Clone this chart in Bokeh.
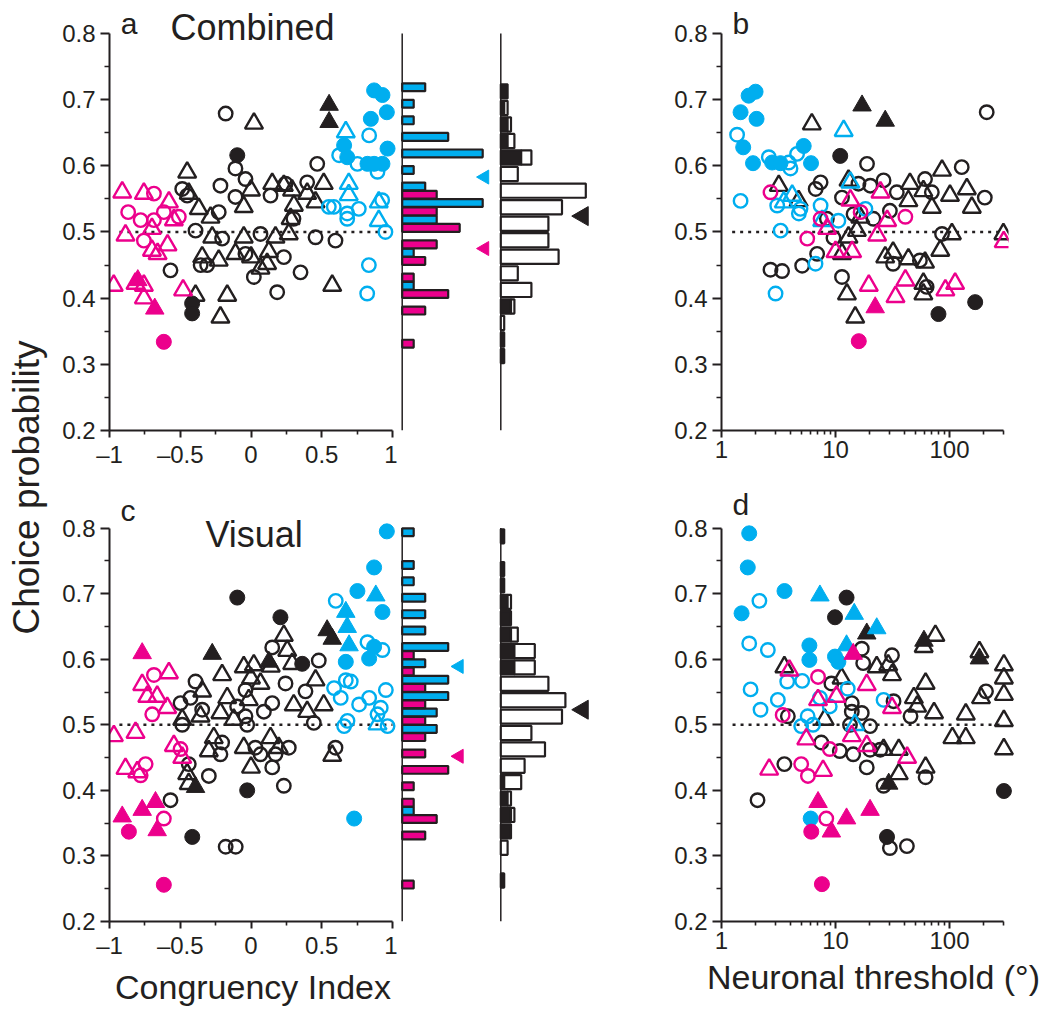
import numpy as np
from bokeh.plotting import figure
from bokeh.models import ColumnDataSource, Range1d, FixedTicker, CustomJSTickFormatter, Label
from bokeh.layouts import row, column
from bokeh.core.properties import value
from bokeh.embed import file_html
from bokeh.resources import INLINE

CYAN = "#00AEEF"
MAGENTA = "#EC008C"
INK = "#231F20"
FONT = "Liberation Sans"

# ---------------- data: panel a (congruency index, choice probability; combined) ----------------
A_CONG_FILL_CIRC = [(0.87, 0.714), (0.929, 0.707), (0.847, 0.671), (0.96, 0.681), (0.658, 0.631), (0.68, 0.613),
                    (0.965, 0.626), (0.823, 0.603), (0.929, 0.603), (0.87, 0.603)]
A_CONG_OPEN_CIRC = [(0.835, 0.646), (0.623, 0.616), (0.752, 0.603), (0.894, 0.591), (0.585, 0.538), (0.68, 0.52),
                    (0.68, 0.528), (0.762, 0.535), (0.927, 0.548), (0.95, 0.50), (0.833, 0.45), (0.821, 0.407),
                    (0.55, 0.538)]
A_CONG_OPEN_TRI = [(0.67, 0.651), (0.691, 0.573), (0.691, 0.556), (0.903, 0.545), (0.903, 0.517)]
A_CONG_FILL_TRI = []
A_OPP_FILL_CIRC = [(-0.616, 0.334)]
A_OPP_FILL_TRI = [(-0.80, 0.427), (-0.68, 0.384)]
A_OPP_OPEN_TRI = [(-0.91, 0.56), (-0.757, 0.558), (-0.58, 0.545), (-0.545, 0.518), (-0.887, 0.495), (-0.70, 0.505),
                  (-0.66, 0.467), (-0.59, 0.48), (-0.70, 0.472), (-0.97, 0.419), (-0.816, 0.422), (-0.757, 0.419),
                  (-0.757, 0.40), (-0.48, 0.412)]
A_OPP_OPEN_CIRC = [(-0.686, 0.558), (-0.868, 0.530), (-0.78, 0.518), (-0.686, 0.518), (-0.616, 0.530),
                   (-0.757, 0.487), (-0.51, 0.523)]
A_MID_FILL_CIRC = [(-0.097, 0.616), (-0.416, 0.392), (-0.416, 0.377)]
A_MID_FILL_TRI = [(0.552, 0.692), (0.552, 0.666)]
A_MID_OPEN_TRI = [(-0.451, 0.590), (-0.44, 0.558), (-0.369, 0.535), (-0.286, 0.522), (-0.051, 0.538), (0.0, 0.563),
                  (0.15, 0.573), (0.232, 0.57), (0.29, 0.563), (0.397, 0.558), (0.514, 0.573), (0.456, 0.545),
                  (0.303, 0.54), (0.28, 0.52), (0.267, 0.497), (-0.274, 0.492), (-0.051, 0.492), (0.173, 0.492),
                  (-0.345, 0.462), (-0.228, 0.457), (-0.11, 0.467), (0.0, 0.462), (0.067, 0.445), (0.126, 0.47),
                  (0.114, 0.452), (0.574, 0.419), (-0.168, 0.404), (-0.216, 0.371), (-0.392, 0.404), (0.021, 0.664)]
A_MID_OPEN_CIRC = [(-0.179, 0.679), (-0.486, 0.565), (-0.451, 0.555), (-0.216, 0.570), (-0.11, 0.596),
                   (-0.039, 0.58), (-0.11, 0.553), (-0.228, 0.53), (0.138, 0.555), (0.244, 0.573), (0.397, 0.575),
                   (0.468, 0.603), (0.30, 0.52), (0.456, 0.492), (0.597, 0.487), (-0.392, 0.502), (-0.204, 0.49),
                   (0.067, 0.497), (-0.31, 0.45), (-0.039, 0.467), (0.02, 0.432), (0.232, 0.462), (0.35, 0.439),
                   (0.185, 0.409), (-0.569, 0.442), (-0.356, 0.45)]

# ---------------- data: panel b (neuronal threshold, choice probability; combined) ----------------
B_CONG_FILL_CIRC = [(1.99, 0.712), (1.73, 0.706), (1.47, 0.681), (2.03, 0.671), (1.55, 0.628), (1.89, 0.604),
                    (2.78, 0.605), (3.29, 0.604), (5.26, 0.63), (6.1, 0.604)]
B_CONG_OPEN_CIRC = [(1.37, 0.647), (1.47, 0.547), (2.6, 0.613), (4.03, 0.596), (3.89, 0.605), (4.6, 0.618),
                    (3.3, 0.502), (2.98, 0.407), (3.08, 0.54), (4.77, 0.528), (4.93, 0.535), (7.4, 0.54),
                    (10.6, 0.517), (18.3, 0.535), (6.68, 0.452)]
B_CONG_OPEN_TRI = [(11.8, 0.653), (13.5, 0.575), (4.17, 0.555), (3.52, 0.545), (7.64, 0.517)]
B_CONG_FILL_TRI = []
B_OPP_FILL_CIRC = [(16.0, 0.335)]
B_OPP_FILL_TRI = [(22.3, 0.386)]
B_OPP_OPEN_CIRC = [(2.69, 0.56), (5.65, 0.49), (7.4, 0.52), (16.6, 0.53), (41.0, 0.523)]
B_OPP_OPEN_TRI = [(24.8, 0.56), (13.5, 0.548), (28.4, 0.517), (23.2, 0.495), (8.45, 0.505), (10.0, 0.47),
                  (14.0, 0.47), (19.6, 0.419), (41.0, 0.427), (33.6, 0.402), (92.0, 0.412), (112.0, 0.422),
                  (299.0, 0.485)]
B_MID_FILL_CIRC = [(11.0, 0.615), (80.0, 0.376), (168.0, 0.394)]
B_MID_FILL_TRI = [(17.1, 0.691), (27.3, 0.668)]
B_MID_OPEN_CIRC = [(2.69, 0.443), (3.4, 0.441), (5.1, 0.449), (6.9, 0.467), (6.7, 0.565), (7.4, 0.575),
                   (18.9, 0.603), (11.4, 0.552), (15.9, 0.573), (20.2, 0.570), (26.4, 0.578), (34.5, 0.56),
                   (61.0, 0.58), (70.0, 0.56), (128.0, 0.598), (204.0, 0.552), (212.0, 0.681), (86.0, 0.497),
                   (9.6, 0.491), (11.4, 0.432), (32.0, 0.452), (30.0, 0.532), (21.5, 0.52), (55.0, 0.457),
                   (63.0, 0.417), (14.4, 0.527), (8.4, 0.52)]
B_MID_OPEN_TRI = [(6.2, 0.663), (3.18, 0.57), (4.75, 0.547), (13.0, 0.578), (15.4, 0.502), (13.0, 0.492),
                  (11.4, 0.467), (12.6, 0.406), (14.9, 0.371), (16.5, 0.522), (27.3, 0.462), (32.0, 0.469),
                  (45.0, 0.573), (43.6, 0.547), (59.0, 0.562), (70.0, 0.537), (86.0, 0.593), (101.0, 0.555),
                  (83.0, 0.472), (105.0, 0.497), (142.0, 0.565), (157.0, 0.537), (61.0, 0.454), (59.0, 0.406),
                  (59.0, 0.422), (297.0, 0.497), (43.6, 0.459)]

# ---------------- data: panel c (congruency index, choice probability; visual) ----------------
C_CONG_FILL_CIRC = [(0.96, 0.795), (0.87, 0.74), (0.752, 0.704), (0.929, 0.672), (0.67, 0.596), (0.835, 0.601),
                    (0.87, 0.619), (0.729, 0.357)]
C_CONG_FILL_TRI = [(0.67, 0.672), (0.68, 0.649), (0.882, 0.697), (0.693, 0.621)]
C_CONG_OPEN_CIRC = [(0.599, 0.689), (0.823, 0.626), (0.929, 0.614), (0.587, 0.556), (0.67, 0.568), (0.705, 0.566),
                    (0.634, 0.541), (0.764, 0.531), (0.835, 0.541), (0.953, 0.553), (0.917, 0.526),
                    (0.894, 0.516), (0.682, 0.506), (0.658, 0.498), (0.965, 0.498)]
C_CONG_OPEN_TRI = [(0.894, 0.501)]
C_OPP_FILL_TRI = [(-0.769, 0.609), (-0.91, 0.36), (-0.769, 0.37), (-0.675, 0.382), (-0.663, 0.339)]
C_OPP_FILL_CIRC = [(-0.863, 0.337), (-0.616, 0.256)]
C_OPP_OPEN_TRI = [(-0.58, 0.579), (-0.769, 0.561), (-0.733, 0.543), (-0.663, 0.543), (-0.592, 0.526),
                  (-0.969, 0.483), (-0.816, 0.488), (-0.887, 0.433), (-0.804, 0.428), (-0.545, 0.468),
                  (-0.486, 0.45)]
C_OPP_OPEN_CIRC = [(-0.686, 0.576), (-0.698, 0.516), (-0.498, 0.463), (-0.745, 0.44), (-0.78, 0.423),
                   (-0.616, 0.357)]
C_MID_FILL_CIRC = [(-0.097, 0.694), (0.208, 0.664), (0.362, 0.593), (-0.027, 0.40), (-0.415, 0.329)]
C_MID_FILL_TRI = [(-0.274, 0.608), (0.538, 0.644), (0.574, 0.631), (0.126, 0.596), (-0.392, 0.405)]
C_MID_OPEN_TRI = [(0.232, 0.636), (0.256, 0.613), (0.291, 0.593), (-0.204, 0.576), (-0.051, 0.588), (0.02, 0.591),
                  (0.0, 0.571), (0.067, 0.563), (-0.345, 0.551), (-0.168, 0.541), (-0.016, 0.538),
                  (-0.216, 0.518), (-0.357, 0.513), (-0.486, 0.508), (-0.122, 0.508), (0.302, 0.53),
                  (0.397, 0.52), (0.514, 0.53), (0.456, 0.568), (-0.263, 0.48), (-0.298, 0.46), (-0.051, 0.465),
                  (0.138, 0.48), (0.196, 0.465), (0.574, 0.453), (0.0, 0.435), (-0.451, 0.425), (-0.44, 0.41),
                  (0.14, 0.589)]
C_MID_OPEN_CIRC = [(-0.392, 0.566), (-0.498, 0.533), (-0.428, 0.541), (-0.345, 0.523), (0.15, 0.618),
                   (0.479, 0.598), (0.244, 0.563), (0.385, 0.551), (-0.039, 0.553), (0.15, 0.533), (0.091, 0.52),
                   (-0.098, 0.528), (-0.039, 0.513), (-0.027, 0.5), (-0.486, 0.50), (0.444, 0.503),
                   (-0.204, 0.473), (-0.216, 0.455), (0.031, 0.465), (0.067, 0.455), (0.173, 0.455),
                   (0.267, 0.465), (0.597, 0.465), (0.15, 0.435), (-0.298, 0.422), (0.232, 0.407),
                   (-0.569, 0.385), (-0.179, 0.314), (-0.108, 0.314), (-0.44, 0.44)]

# ---------------- data: panel d (neuronal threshold, choice probability; visual) ----------------
D_CONG_FILL_CIRC = [(1.75, 0.792), (1.7, 0.74), (3.57, 0.704), (1.5, 0.67), (5.9, 0.621), (5.9, 0.599),
                    (9.9, 0.604), (10.6, 0.596), (6.06, 0.357)]
D_CONG_FILL_TRI = [(7.3, 0.697), (14.6, 0.669), (23.0, 0.647), (12.5, 0.621)]
D_CONG_OPEN_CIRC = [(2.15, 0.689), (1.75, 0.624), (2.55, 0.614), (1.8, 0.554), (3.77, 0.566), (5.1, 0.567),
                    (3.12, 0.538), (2.2, 0.523), (5.7, 0.513), (5.0, 0.498), (6.35, 0.50), (7.3, 0.541),
                    (8.9, 0.528), (12.8, 0.555), (26.4, 0.538)]
D_CONG_OPEN_TRI = [(14.8, 0.50)]
D_OPP_FILL_TRI = [(7.03, 0.382), (9.2, 0.337), (12.5, 0.357), (20.1, 0.37), (14.3, 0.608)]
D_OPP_FILL_CIRC = [(6.13, 0.337), (7.6, 0.257)]
D_OPP_OPEN_TRI = [(3.94, 0.583), (2.62, 0.432), (5.54, 0.478), (7.78, 0.43), (7.03, 0.538), (10.2, 0.543),
                  (18.8, 0.561), (18.8, 0.468), (31.3, 0.526), (42.5, 0.45), (13.9, 0.483)]
D_OPP_OPEN_CIRC = [(7.03, 0.573), (3.44, 0.515), (8.9, 0.463), (5.0, 0.44), (5.73, 0.422), (8.3, 0.357)]
D_MID_FILL_CIRC = [(12.5, 0.694), (9.9, 0.664), (300.0, 0.399), (28.3, 0.329)]
D_MID_FILL_TRI = [(18.8, 0.639), (59.7, 0.628), (183.0, 0.601), (29.3, 0.41)]
D_MID_OPEN_CIRC = [(17.0, 0.616), (31.3, 0.606), (9.2, 0.563), (13.9, 0.533), (13.9, 0.52), (17.0, 0.518),
                   (13.4, 0.50), (20.1, 0.498), (45.5, 0.513), (209.0, 0.551), (7.5, 0.473), (10.9, 0.46),
                   (14.3, 0.455), (24.7, 0.462), (18.8, 0.435), (26.4, 0.407), (61.7, 0.42), (3.56, 0.44),
                   (2.07, 0.385), (3.82, 0.513), (30.0, 0.312), (42.3, 0.315), (17.5, 0.594), (32.3, 0.536),
                   (20.1, 0.462)]
D_MID_OPEN_TRI = [(3.56, 0.588), (8.04, 0.508), (11.3, 0.571), (23.0, 0.588), (31.3, 0.576), (61.7, 0.563),
                  (48.7, 0.541), (52.0, 0.528), (73.2, 0.518), (139.0, 0.516), (106.0, 0.48), (139.0, 0.48),
                  (189.0, 0.541), (183.0, 0.611), (300.0, 0.591), (300.0, 0.571), (300.0, 0.546),
                  (300.0, 0.506), (300.0, 0.463), (26.4, 0.462), (35.9, 0.462), (35.9, 0.425), (61.7, 0.435),
                  (75.2, 0.636), (59.4, 0.619), (29.0, 0.591)]

# ---------------- histograms (bin lower edge, counts) ----------------
HA_CONG_BIN = [0.700, 0.675, 0.650, 0.625, 0.600, 0.575, 0.550, 0.525, 0.500, 0.450, 0.400]
HA_CONG_N = [2, 1, 1, 4, 7, 1, 2, 7, 3, 1, 1]
HA_OPP_BIN = [0.550, 0.525, 0.500, 0.475, 0.450, 0.425, 0.400, 0.375, 0.325]
HA_OPP_N = [3, 3, 5, 3, 2, 1, 4, 2, 1]
HA_ALL_BIN = [0.700, 0.675, 0.650, 0.625, 0.600, 0.575, 0.550, 0.525, 0.500, 0.475, 0.450, 0.425, 0.400,
              0.375, 0.350, 0.325, 0.300]
HA_SIG_N = [2, 1, 2, 2, 6, 0, 0, 0, 0, 0, 0, 0, 0, 3, 0, 1, 1]
HA_ALL_N = [2, 2, 3, 4, 9, 5, 25, 18, 14, 14, 17, 5, 9, 4, 1, 1, 1]

HC_CONG_BIN = [0.775, 0.725, 0.700, 0.675, 0.650, 0.625, 0.600, 0.575, 0.550, 0.525, 0.500, 0.475, 0.350]
HC_CONG_N = [1, 1, 1, 2, 2, 2, 4, 2, 4, 4, 3, 3, 1]
HC_OPP_BIN = [0.600, 0.575, 0.550, 0.525, 0.500, 0.475, 0.450, 0.425, 0.400, 0.375, 0.350, 0.325, 0.250]
HC_OPP_N = [1, 1, 2, 2, 2, 2, 2, 4, 1, 1, 3, 2, 1]
HC_ALL_BIN = [0.775, 0.725, 0.700, 0.675, 0.650, 0.625, 0.600, 0.575, 0.550, 0.525, 0.500, 0.475, 0.450,
              0.425, 0.400, 0.375, 0.350, 0.325, 0.300, 0.250]
HC_SIG_N = [1, 1, 1, 2, 3, 3, 4, 4, 0, 0, 0, 0, 0, 0, 1, 2, 3, 3, 0, 1]
HC_ALL_N = [1, 1, 1, 3, 3, 5, 10, 10, 14, 19, 18, 9, 13, 7, 6, 3, 4, 3, 2, 1]

# median markers (arrows)
MED_A = {"cong": 0.583, "opp": 0.475, "all": 0.524}
MED_C = {"cong": 0.589, "opp": 0.452, "all": 0.523}

CP_TICKS = [0.2, 0.3, 0.4, 0.5, 0.6, 0.7, 0.8]
CP_MINOR = [0.25, 0.35, 0.45, 0.55, 0.65, 0.75]
CI_TICKS = [-1, -0.5, 0, 0.5, 1]
CI_MINOR = [-0.75, -0.25, 0.25, 0.75]
THR_TICKS = [1, 10, 100]
THR_MINOR = [2, 3, 4, 5, 6, 7, 8, 9, 20, 30, 40, 50, 60, 70, 80, 90, 200, 300]
CHANCE = 0.5

# ---------------- layout constants ----------------
CP_LO, CP_HI = 0.2, 0.8
TOP1 = 0.8 + 23 / 662.0     # row 1 frame top (room for panel letters)
TOP2 = 0.8 + 37 / 663.0     # row 2 frame top
CI_LO, CI_HI = -1, 1
THR_LO, THR_HI = 1, 300
PX_CI = 141.5
PX_DEC = 114.0
BIN = 0.025
H1_UNIT = 11.5
H2_UNIT = 3.4
LBL_UP = 13 / 662.0         # vertical nudge for panel letters / titles


def style_common(p):
    p.grid.visible = False
    p.outline_line_color = None
    p.background_fill_color = "white"
    p.border_fill_color = "white"


def style_axes(p, xticks, xminor, xfmt, xbounds):
    for ax in (p.xaxis[0], p.yaxis[0]):
        ax.axis_line_color = INK
        ax.axis_line_width = 2
        ax.major_tick_line_color = INK
        ax.major_tick_line_width = 2
        ax.minor_tick_line_color = INK
        ax.minor_tick_line_width = 1.6
        ax.major_tick_in = 0
        ax.minor_tick_in = 0
        ax.major_label_text_font = FONT
        ax.major_label_text_font_size = "24px"
        ax.major_label_text_color = INK
        ax.axis_label_text_font = FONT
        ax.axis_label_text_font_size = "34px"
        ax.axis_label_text_font_style = "normal"
        ax.axis_label_text_color = INK
    xa, ya = p.xaxis[0], p.yaxis[0]
    xa.ticker = FixedTicker(ticks=xticks, minor_ticks=xminor)
    xa.formatter = CustomJSTickFormatter(code=xfmt)
    xa.bounds = xbounds
    xa.major_tick_out = 7
    xa.minor_tick_out = 4
    xa.major_label_standoff = 3
    ya.ticker = FixedTicker(ticks=CP_TICKS, minor_ticks=CP_MINOR)
    ya.formatter = CustomJSTickFormatter(code="return tick.toFixed(1);")
    ya.bounds = (CP_LO, CP_HI)
    ya.major_tick_out = 9
    ya.minor_tick_out = 5
    ya.major_label_standoff = 5


CI_FMT = "return tick < 0 ? '\\u2013' + String(Math.abs(tick)) : String(tick);"
THR_FMT = "return String(tick);"


def add_group(p, pts, color, marker, filled):
    if not pts:
        return
    src = ColumnDataSource(dict(x=[q[0] for q in pts], y=[q[1] for q in pts]))
    if marker == "circle":
        size = 15 if filled else 13.5
    else:
        size = 18.5 if filled else 18
    p.scatter("x", "y", source=src, marker=marker, size=size,
              fill_color=color if filled else None, line_color=color,
              line_width=1 if filled else 2.4)


def scatter_fig(kind, width, height, b_left, b_right, b_top, b_bottom, cp_top, groups, dot_start):
    frame_w = width - b_left - b_right
    if kind == "ci":
        xr = Range1d(CI_LO, CI_LO + frame_w / PX_CI)
        p = figure(width=width, height=height, x_range=xr, y_range=Range1d(CP_LO, cp_top),
                   toolbar_location=None, output_backend="svg",
                   min_border_left=b_left, min_border_right=b_right,
                   min_border_top=b_top, min_border_bottom=b_bottom)
        style_axes(p, CI_TICKS, CI_MINOR, CI_FMT, (CI_LO, CI_HI))
        x_end = CI_HI
    else:
        xr = Range1d(THR_LO, 10 ** (frame_w / PX_DEC))
        p = figure(width=width, height=height, x_range=xr, y_range=Range1d(CP_LO, cp_top),
                   x_axis_type="log", toolbar_location=None, output_backend="svg",
                   min_border_left=b_left, min_border_right=b_right,
                   min_border_top=b_top, min_border_bottom=b_bottom)
        style_axes(p, THR_TICKS, THR_MINOR, THR_FMT, (THR_LO, THR_HI))
        x_end = THR_HI
    style_common(p)
    p.segment(x0=[dot_start], y0=[CHANCE], x1=[x_end], y1=[CHANCE], line_color=INK,
              line_width=2.5, line_dash="3 5")
    for pts, color, marker, filled in groups:
        add_group(p, pts, color, marker, filled)
    return p


def panel_label(p, x, y, text, size):
    p.add_layout(Label(x=x, y=y + LBL_UP, text=text, text_font=FONT, text_font_size=size,
                       text_color=INK, text_baseline="alphabetic", text_align="left"))


def groups_for(cong_fc, cong_oc, cong_ot, cong_ft, opp_fc, opp_ft, opp_ot, opp_oc,
               mid_fc, mid_ft, mid_ot, mid_oc):
    return [
        (mid_oc, INK, "circle", False), (mid_ot, INK, "triangle", False),
        (mid_fc, INK, "circle", True), (mid_ft, INK, "triangle", True),
        (cong_oc, CYAN, "circle", False), (cong_ot, CYAN, "triangle", False),
        (cong_fc, CYAN, "circle", True), (cong_ft, CYAN, "triangle", True),
        (opp_oc, MAGENTA, "circle", False), (opp_ot, MAGENTA, "triangle", False),
        (opp_fc, MAGENTA, "circle", True), (opp_ft, MAGENTA, "triangle", True),
    ]


def hist_fig(width, height, b_top, b_bottom, cp_top, x_lo, unit):
    p = figure(width=width, height=height, x_range=Range1d(x_lo, x_lo + width / unit),
               y_range=Range1d(CP_LO, cp_top), x_axis_location=None, y_axis_location=None,
               toolbar_location=None, output_backend="svg",
               min_border_left=0, min_border_right=0, min_border_top=b_top, min_border_bottom=b_bottom)
    style_common(p)
    p.segment(x0=[0], y0=[CP_LO], x1=[0], y1=[CP_HI], line_color=INK, line_width=1.5)
    return p


def class_hist(p, cong_bin, cong_n, opp_bin, opp_n, med, arrow_x):
    p.hbar(y=[b + 0.75 * BIN for b in cong_bin], left=0, right=cong_n, height=BIN / 2 * 0.95,
           fill_color=CYAN, line_color=INK, line_width=2.2)
    p.hbar(y=[b + 0.25 * BIN for b in opp_bin], left=0, right=opp_n, height=BIN / 2 * 0.95,
           fill_color=MAGENTA, line_color=INK, line_width=2.2)
    p.scatter(x=[arrow_x, arrow_x], y=[med["cong"], med["opp"]], marker="triangle", angle=np.pi / 2,
              size=14, fill_color=[CYAN, MAGENTA], line_color=[CYAN, MAGENTA])


def all_hist(p, bins, sig_n, all_n, med, arrow_x):
    yb = [b + BIN / 2 for b in bins]
    ys = [y for y, s in zip(yb, sig_n) if s > 0]
    ss = [s for s in sig_n if s > 0]
    p.hbar(y=ys, left=0, right=ss, height=BIN * 0.86, fill_color=INK, line_color=INK, line_width=2.2)
    yw = [y for y, s, a in zip(yb, sig_n, all_n) if a > s]
    lw = [s for s, a in zip(sig_n, all_n) if a > s]
    rw = [a for s, a in zip(sig_n, all_n) if a > s]
    p.hbar(y=yw, left=lw, right=rw, height=BIN * 0.86, fill_color="white", line_color=INK, line_width=2.2)
    p.scatter(x=[arrow_x], y=[med["all"]], marker="triangle", angle=np.pi / 2, size=19,
              fill_color=INK, line_color=INK)


ROW1_H, ROW2_H = 472, 541

# ---------------- row 1 ----------------
pa = scatter_fig("ci", 344, ROW1_H, 56, 1, 10, 42, TOP1,
                 groups_for(A_CONG_FILL_CIRC, A_CONG_OPEN_CIRC, A_CONG_OPEN_TRI, A_CONG_FILL_TRI,
                            A_OPP_FILL_CIRC, A_OPP_FILL_TRI, A_OPP_OPEN_TRI, A_OPP_OPEN_CIRC,
                            A_MID_FILL_CIRC, A_MID_FILL_TRI, A_MID_OPEN_TRI, A_MID_OPEN_CIRC), -0.93)
panel_label(pa, -0.92, 0.7955, "a", "30px")
panel_label(pa, -0.569, 0.7894, "Combined", "36px")

h1a = hist_fig(100, ROW1_H, 10, 42, TOP1, -4.7 / H1_UNIT, H1_UNIT)
class_hist(h1a, HA_CONG_BIN, HA_CONG_N, HA_OPP_BIN, HA_OPP_N, MED_A, 7.17)
h2a = hist_fig(103, ROW1_H, 10, 42, TOP1, -3.3 / H2_UNIT, H2_UNIT)
all_hist(h2a, HA_ALL_BIN, HA_SIG_N, HA_ALL_N, MED_A, 24.1)

pb = scatter_fig("thr", 440, ROW1_H, 121, 32, 10, 42, TOP1,
                 groups_for(B_CONG_FILL_CIRC, B_CONG_OPEN_CIRC, B_CONG_OPEN_TRI, B_CONG_FILL_TRI,
                            B_OPP_FILL_CIRC, B_OPP_FILL_TRI, B_OPP_OPEN_TRI, B_OPP_OPEN_CIRC,
                            B_MID_FILL_CIRC, B_MID_FILL_TRI, B_MID_OPEN_TRI, B_MID_OPEN_CIRC), 1.24)
panel_label(pb, 1.25, 0.7955, "b", "30px")

# ---------------- row 2 ----------------
pc = scatter_fig("ci", 344, ROW2_H, 56, 1, 14, 92, TOP2,
                 groups_for(C_CONG_FILL_CIRC, C_CONG_OPEN_CIRC, C_CONG_OPEN_TRI, C_CONG_FILL_TRI,
                            C_OPP_FILL_CIRC, C_OPP_FILL_TRI, C_OPP_OPEN_TRI, C_OPP_OPEN_CIRC,
                            C_MID_FILL_CIRC, C_MID_FILL_TRI, C_MID_OPEN_TRI, C_MID_OPEN_CIRC), -0.93)
pc.xaxis[0].axis_label = "Congruency Index"
pc.xaxis[0].axis_label_standoff = 6
panel_label(pc, -0.922, 0.8075, "c", "30px")
panel_label(pc, -0.322, 0.77, "Visual", "36px")

h1c = hist_fig(100, ROW2_H, 14, 92, TOP2, -4.7 / H1_UNIT, H1_UNIT)
class_hist(h1c, HC_CONG_BIN, HC_CONG_N, HC_OPP_BIN, HC_OPP_N, MED_C, 4.95)
h2c = hist_fig(103, ROW2_H, 14, 92, TOP2, -3.3 / H2_UNIT, H2_UNIT)
all_hist(h2c, HC_ALL_BIN, HC_SIG_N, HC_ALL_N, MED_C, 24.1)

pd_ = scatter_fig("thr", 440, ROW2_H, 121, 15, 19, 87, TOP2,
                  groups_for(D_CONG_FILL_CIRC, D_CONG_OPEN_CIRC, D_CONG_OPEN_TRI, D_CONG_FILL_TRI,
                             D_OPP_FILL_CIRC, D_OPP_FILL_TRI, D_OPP_OPEN_TRI, D_OPP_OPEN_CIRC,
                             D_MID_FILL_CIRC, D_MID_FILL_TRI, D_MID_OPEN_TRI, D_MID_OPEN_CIRC), 1.25)
pd_.xaxis[0].axis_label = "Neuronal threshold (\u00b0)"
pd_.xaxis[0].axis_label_standoff = 6
panel_label(pd_, 1.25, 0.8166, "d", "30px")

# ---------------- shared y label ----------------
TOTAL_H = ROW1_H + ROW2_H
pl = figure(width=53, height=TOTAL_H, x_range=Range1d(0, 53), y_range=Range1d(0, TOTAL_H),
            x_axis_location=None, y_axis_location=None, toolbar_location=None, output_backend="svg",
            min_border=0)
style_common(pl)
pl.text(x=[26], y=[TOTAL_H - 487], text=["Choice probability"], angle=np.pi / 2, text_align="center",
        text_baseline="middle", text_font=value(FONT), text_font_size="37px", text_color=INK)

layout = row(pl, column(row(pa, h1a, h2a, pb), row(pc, h1c, h2c, pd_)))

open("out.html", "w").write(file_html(layout, INLINE))
